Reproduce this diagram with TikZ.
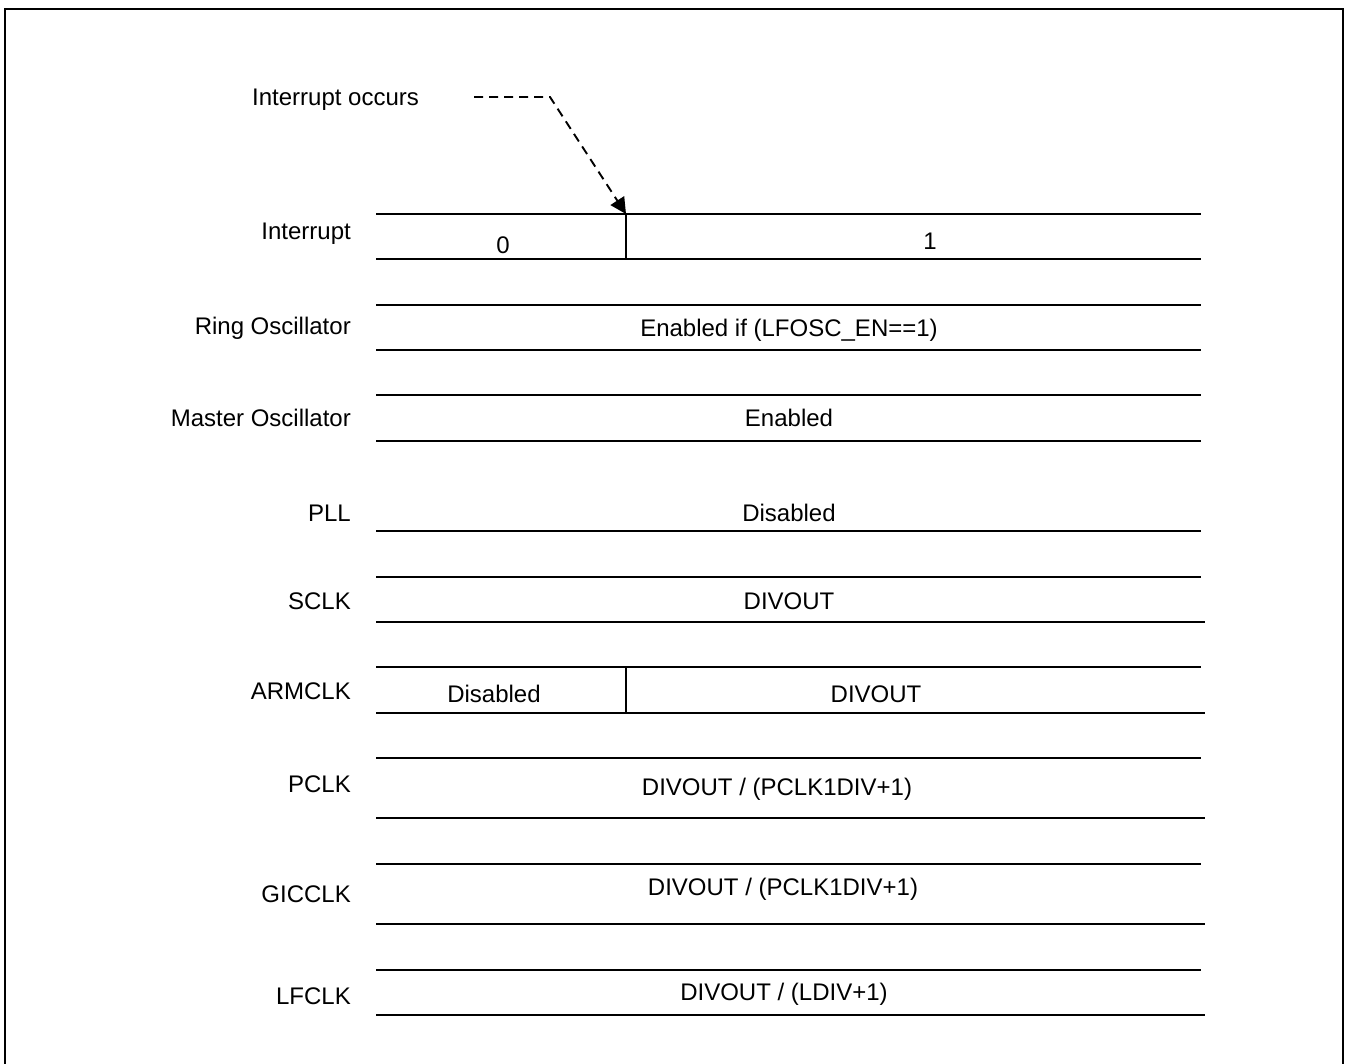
\documentclass[tikz,border=0pt]{standalone}
\usepackage{fontspec}
\setmainfont{Liberation Sans}
\usetikzlibrary{arrows.meta}
\begin{document}
\begin{tikzpicture}[x=1pt,y=-1pt,
  lbl/.style={anchor=east,inner sep=0pt,font=\fontsize{24}{29}\selectfont},
  val/.style={anchor=center,inner sep=0pt,font=\fontsize{24}{29}\selectfont},
  rail/.style={line width=2.2pt},
  divider/.style={line width=1.4pt},
  frame/.style={line width=2.2pt}]
\useasboundingbox (0,0) rectangle (1350,1064);
\draw[frame] (5,1070) -- (5,9) -- (1343,9) -- (1343,1070);
% horizontal rails
\foreach \y/\xe in {214/1201,259/1201,305/1201,350/1201,395/1201,441/1201,531/1201,577/1201,622/1205,667/1201,713/1205,758/1201,818/1205,864/1201,924/1205,970/1201,1015/1205}
  \draw[rail] (376,\y) -- (\xe,\y);
% dividers
\coordinate (d1t) at (626,214); \coordinate (d1b) at (626,259);
\coordinate (d2t) at (626,667); \coordinate (d2b) at (626,713);
\draw[divider] (d1t) -- (d1b);
\draw[divider] (d2t) -- (d2b);
% labels
\node[val,anchor=west] (occ) at (252,100) {Interrupt occurs};
\node[lbl] (l1) at (351,234) {Interrupt};
\node[lbl] (l2) at (351,328) {Ring Oscillator};
\node[lbl] (l3) at (351,418) {Master Oscillator};
\node[lbl] (l4) at (351,513) {PLL};
\node[lbl] (l5) at (351,601) {SCLK};
\node[lbl] (l6) at (351,691) {ARMCLK};
\node[lbl] (l7) at (351,784) {PCLK};
\node[lbl] (l8) at (351,894) {GICCLK};
\node[lbl] (l9) at (351,996) {LFCLK};
% values
\node[val] (v0) at (503,245) {0};
\node[val] (v1) at (930,241) {1};
\node[val] (v2) at (789,330) {Enabled if (LFOSC\_EN==1)};
\node[val] (v3) at (789,418) {Enabled};
\node[val] (v4) at (789,513) {Disabled};
\node[val] (v5) at (789,601) {DIVOUT};
\node[val] (v6a) at (494,694) {Disabled};
\node[val] (v6b) at (876,694) {DIVOUT};
\node[val] (v7) at (777,789) {DIVOUT / (PCLK1DIV+1)};
\node[val] (v8) at (783,889) {DIVOUT / (PCLK1DIV+1)};
\node[val] (v9) at (784,994) {DIVOUT / (LDIV+1)};
% dashed arrow
\coordinate (ds) at (474,97);
\coordinate (dk) at (550,97);
\draw[line width=1.9pt,dash pattern=on 9pt off 6pt,-{Triangle[length=16pt,width=16pt]}] (ds) -- (dk) -- (d1t);
\end{tikzpicture}
\end{document}
